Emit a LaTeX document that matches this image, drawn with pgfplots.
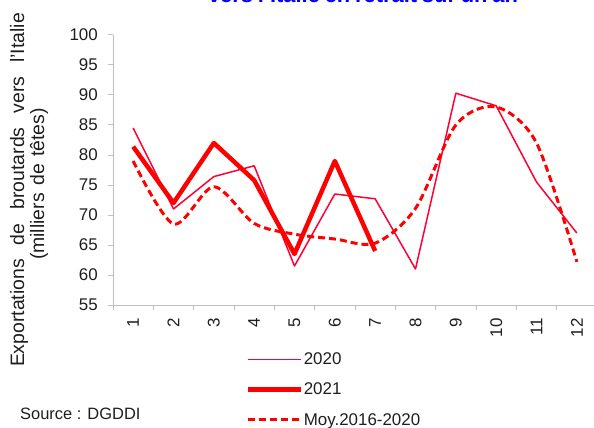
\documentclass[border=0pt]{standalone}
\usepackage{fontspec}
\setmainfont{Liberation Sans}
\usepackage{pgfplots}
\pgfplotsset{compat=1.18}
\definecolor{axisgray}{RGB}{191,191,191}
\definecolor{thinred}{RGB}{255,0,51}
\definecolor{txt}{RGB}{30,30,30}
\begin{document}
\begin{tikzpicture}
\useasboundingbox (0,0) rectangle (594bp,428bp);
\begin{axis}[
  at={(113bp,123bp)}, anchor=south west,
  scale only axis, width=484bp, height=270bp,
  xmin=0.5, xmax=12.5, ymin=55, ymax=100,
  axis x line*=bottom, axis y line*=left,
  axis line style={axisgray, line width=1pt, -},
  xtick={1,...,12},
  ytick={55,60,...,100},
  minor xtick={0.5,1.5,...,12.5},
  minor ytick={55,60,...,100},
  tick align=outside,
  major tick length=0pt,
  minor tick length=5bp,
  tick style={axisgray, line width=1pt},
  /pgf/number format/assume math mode=true,
  ticklabel style={font=\fontsize{17}{20}\selectfont, text=txt},
  xticklabel style={yshift=-11bp, rotate=90, anchor=east, inner sep=2bp},
  yticklabel style={anchor=east, inner sep=2bp, xshift=-13bp},
  legend style={at={(0.273,-0.172)}, anchor=north west, draw=none, fill=none,
    font=\fontsize{17}{20}\selectfont, text=txt, row sep=15bp, inner sep=0pt,
    nodes={inner sep=1bp},
    /tikz/every even column/.append style={column sep=1bp}},
  legend cell align=left,
  legend image code/.code={\draw[#1] (0bp,0bp) -- (53bp,0bp);},
]
\addplot[thinred, line width=1.5pt, line join=round] coordinates {
(1,84.5) (2,71) (3,76.4) (4,78.2) (5,61.5) (6,73.5) (7,72.7) (8,61) (9,90.3) (10,88.2) (11,75.5) (12,67)};
\addlegendentry{2020}
\addplot[red, line width=4.5pt, line join=round] coordinates {
(1,81.4) (2,72) (3,82) (4,75.8) (5,63.5) (6,79) (7,64)};
\addlegendentry{2021}
\addplot[red, line width=3pt, dash pattern=on 7bp off 4bp, smooth] coordinates {
(1,79) (2,68.5) (3,74.7) (4,68.6) (5,66.8) (6,66) (7,65.3) (8,71.1) (9,85) (10,88) (11,82) (12,62.2)};
\addlegendentry{Moy.2016-2020}
\end{axis}
\node[anchor=base, font=\bfseries\fontsize{22}{26}\selectfont, text=blue] at (363bp,425.5bp) {\makebox[310bp][s]{vers l'Italie en retrait sur un an}};
\node[rotate=90, anchor=base, font=\fontsize{19.5}{22}\selectfont, text=txt, inner sep=0pt] at (24bp,238bp) {\makebox[354bp][s]{Exportations de broutards vers l'Italie}};
\node[rotate=90, anchor=base, font=\fontsize{19.5}{22}\selectfont, text=txt, inner sep=0pt] at (44bp,244bp) {\makebox[152bp][s]{(milliers de têtes)}};
\node[anchor=base west, font=\fontsize{16.5}{20}\selectfont, text=txt, inner sep=0pt] at (20bp,9bp) {Source : DGDDI};
\end{tikzpicture}
\end{document}
